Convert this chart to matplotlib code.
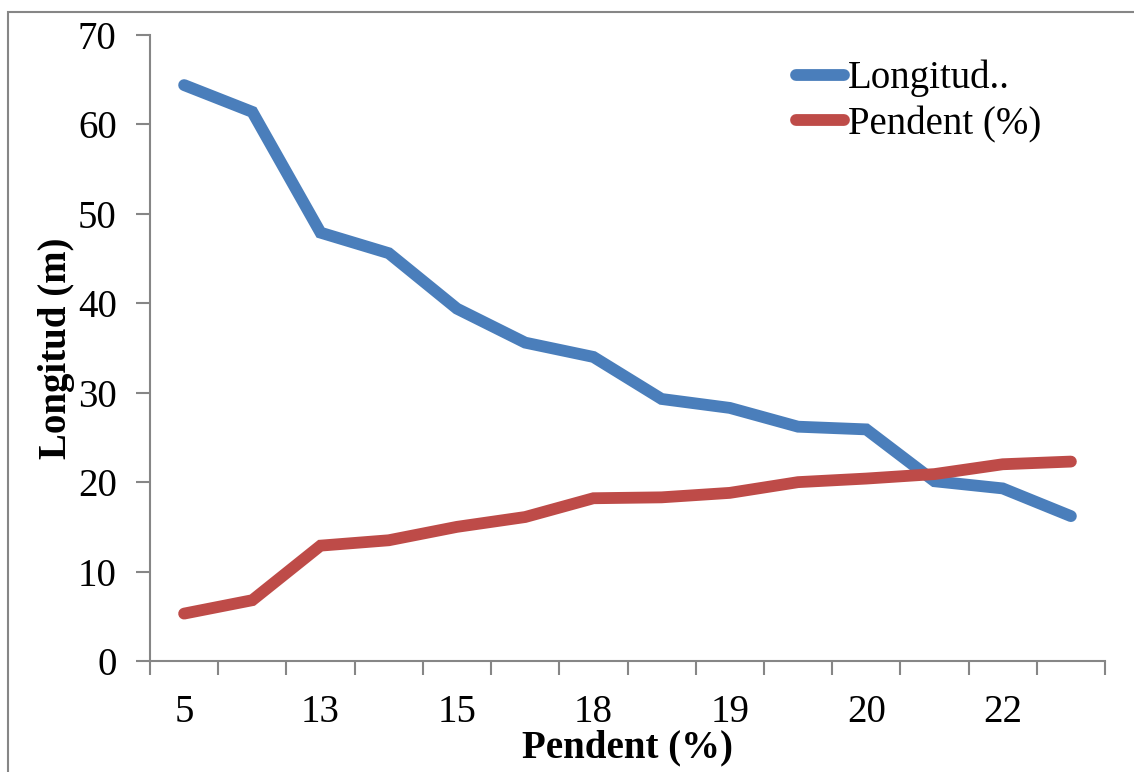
import matplotlib.pyplot as plt
from matplotlib.patches import Rectangle

labels = ["5", "7", "13", "14", "15", "16", "18", "18", "19", "20", "20", "21", "22", "22"]
longitud = [64.4, 61.4, 47.9, 45.6, 39.4, 35.6, 34.0, 29.3, 28.3, 26.2, 25.9, 20.1, 19.3, 16.2]
pendent = [5.3, 6.8, 12.9, 13.5, 15.0, 16.1, 18.2, 18.3, 18.8, 20.0, 20.4, 20.9, 22.0, 22.3]

plt.rcParams["font.family"] = ["Liberation Serif", "DejaVu Serif"]
grey = "#868686"

fig = plt.figure(figsize=(11.34, 7.72), dpi=100)
ax = fig.add_axes([150 / 1134, 1 - 661 / 772, 955 / 1134, 626 / 772])

x = range(len(labels))
ax.plot(x, longitud, color="#4a7ebb", lw=8.5, solid_capstyle="round",
        solid_joinstyle="miter", label="Longitud..")
ax.plot(x, pendent, color="#be4b48", lw=8.5, solid_capstyle="round",
        solid_joinstyle="miter", label="Pendent (%)")

ax.set_xlim(-0.5, len(labels) - 0.5)
ax.set_ylim(0, 70)
ax.set_yticks(range(0, 71, 10))
ax.set_xticks([i - 0.5 for i in range(len(labels) + 1)], minor=False)
ax.set_xticklabels([])
ax.set_xticks(list(range(0, len(labels), 2)), minor=True)
ax.set_xticklabels(labels[::2], minor=True)
ax.tick_params(axis="x", which="minor", length=0, pad=24, labelsize=28)
ax.tick_params(axis="x", which="major", length=10, width=1.5, color=grey, direction="out")
ax.tick_params(axis="y", length=10, width=1.5, color=grey, labelsize=28, pad=14)

for s in ["top", "right"]:
    ax.spines[s].set_visible(False)
for s in ["left", "bottom"]:
    ax.spines[s].set_color(grey)
    ax.spines[s].set_linewidth(1.5)

ax.set_xlabel("Pendent (%)", fontsize=28, fontweight="bold", va="center")
ax.xaxis.set_label_coords(0.5, -87 / 626)
ax.set_ylabel("Longitud (m)", fontsize=28, fontweight="bold", labelpad=2)

leg = ax.legend(loc="upper left", bbox_to_anchor=(0.66, 0.985), frameon=False,
                fontsize=28, handlelength=1.25, handletextpad=0.1,
                labelspacing=0.22, borderaxespad=0)

fig.patches.append(Rectangle((8 / 1134, -0.01), 1.2, 1.01 - 12 / 772,
                             transform=fig.transFigure, fill=False,
                             edgecolor=grey, lw=1.5))

fig.savefig("out.png", dpi=100)
